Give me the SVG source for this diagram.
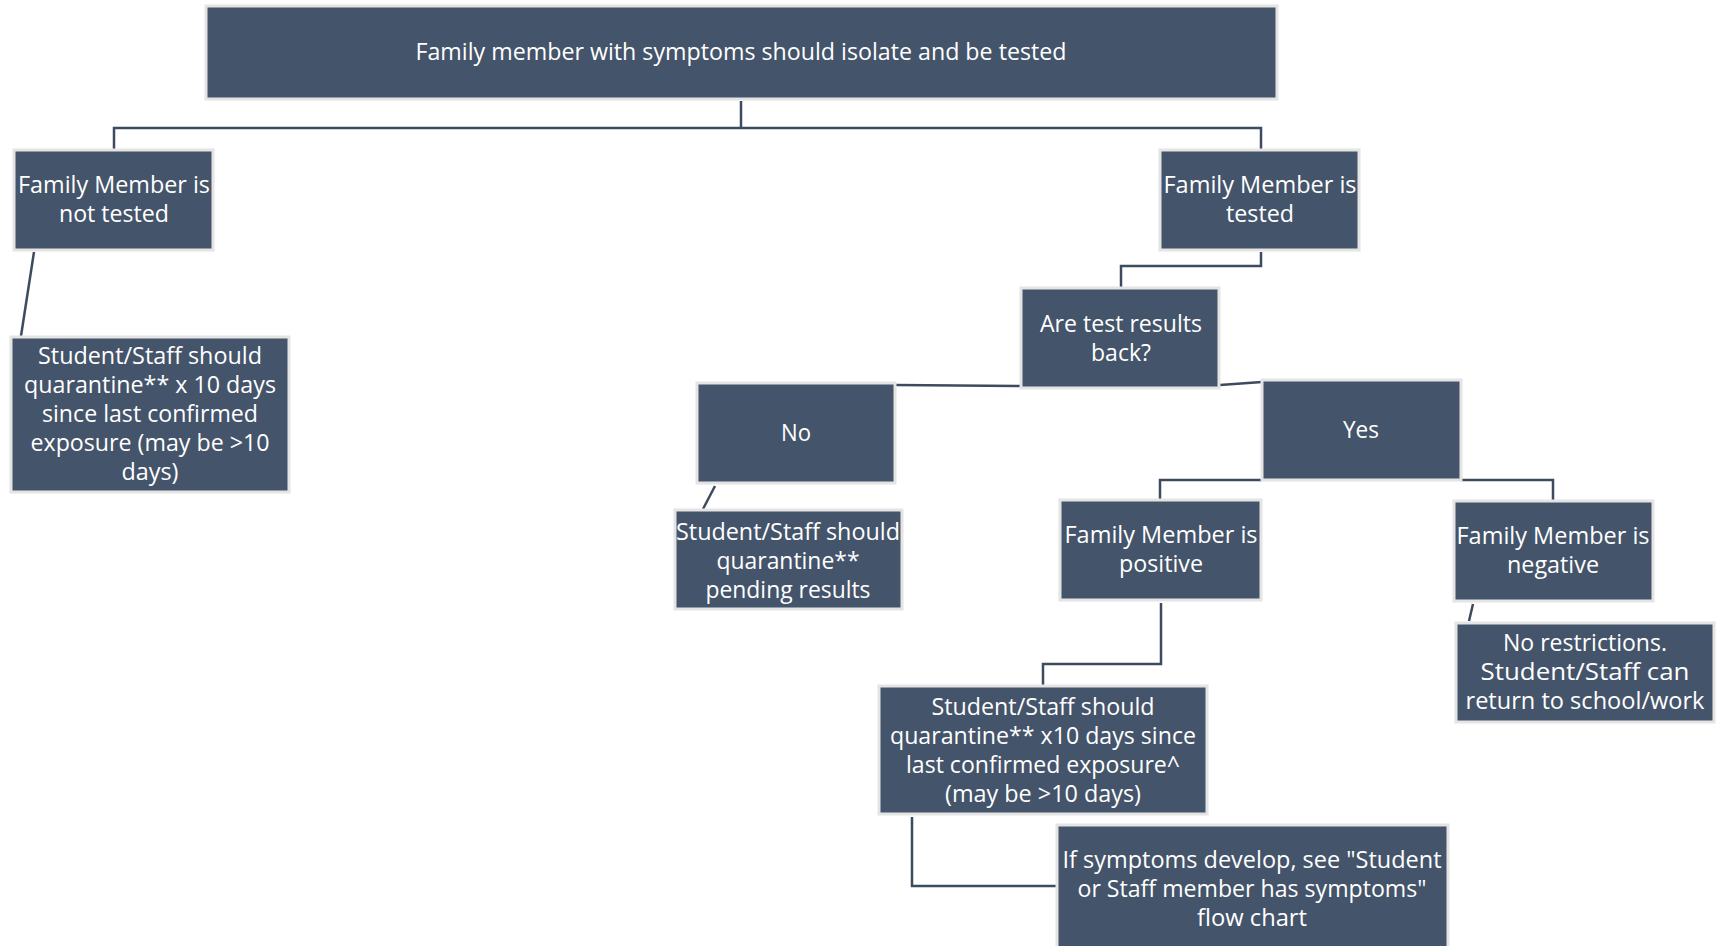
<svg xmlns="http://www.w3.org/2000/svg" width="1716" height="946" viewBox="0 0 1716 946">
<style>
.box{fill:#44546A;stroke:#E4E4E4;stroke-width:3}
.t{font-family:"Open Sans","Liberation Sans",sans-serif;font-size:23px;fill:#FFFFFF;text-anchor:middle}
.c{fill:none;stroke:#3D4B5F;stroke-width:2.5}
</style>
<rect width="1716" height="946" fill="#FFFFFF"/>
<g id="connectors">
<polyline class="c" points="741,101 741,128"/>
<polyline class="c" points="114,150 114,128 1261,128 1261,150"/>
<line class="c" x1="34" y1="252" x2="21" y2="336"/>
<polyline class="c" points="1261,252 1261,266 1121,266 1121,288"/>
<line class="c" x1="1020" y1="386" x2="896" y2="385"/>
<line class="c" x1="1220" y1="385" x2="1262" y2="382"/>
<line class="c" x1="715" y1="486" x2="703" y2="509"/>
<polyline class="c" points="1160,500 1160,480 1262,480"/>
<polyline class="c" points="1461,480 1553,480 1553,501"/>
<line class="c" x1="1473" y1="604" x2="1469" y2="621"/>
<polyline class="c" points="1161,603 1161,664 1043,664 1043,686"/>
<polyline class="c" points="912,817 912,886 1057,886"/>
</g>
<g id="n-top">
<rect class="box" x="206" y="6" width="1071" height="93"/>
<text class="t" x="741" y="60" textLength="651" lengthAdjust="spacingAndGlyphs">Family member with symptoms should isolate and be tested</text>
</g>
<g id="n-nottested">
<rect class="box" x="14" y="150" width="199" height="100"/>
<text class="t" x="114" y="193" textLength="192" lengthAdjust="spacingAndGlyphs">Family Member is</text>
<text class="t" x="114" y="222" textLength="110" lengthAdjust="spacingAndGlyphs">not tested</text>
</g>
<g id="n-q10">
<rect class="box" x="11" y="337" width="278" height="155"/>
<text class="t" x="150" y="364" textLength="224" lengthAdjust="spacingAndGlyphs">Student/Staff should</text>
<text class="t" x="150" y="393" textLength="252" lengthAdjust="spacingAndGlyphs">quarantine** x 10 days</text>
<text class="t" x="150" y="422" textLength="216" lengthAdjust="spacingAndGlyphs">since last confirmed</text>
<text class="t" x="150" y="451" textLength="239" lengthAdjust="spacingAndGlyphs">exposure (may be &gt;10</text>
<text class="t" x="150" y="480" textLength="57" lengthAdjust="spacingAndGlyphs">days)</text>
</g>
<g id="n-tested">
<rect class="box" x="1160" y="150" width="199" height="100"/>
<text class="t" x="1260" y="193" textLength="193" lengthAdjust="spacingAndGlyphs">Family Member is</text>
<text class="t" x="1260" y="222" textLength="68" lengthAdjust="spacingAndGlyphs">tested</text>
</g>
<g id="n-back">
<rect class="box" x="1021" y="288" width="198" height="100"/>
<text class="t" x="1121" y="332" textLength="162" lengthAdjust="spacingAndGlyphs">Are test results</text>
<text class="t" x="1121" y="361" textLength="60" lengthAdjust="spacingAndGlyphs">back?</text>
</g>
<g id="n-no">
<rect class="box" x="697" y="383" width="198" height="100"/>
<text class="t" x="796" y="441" textLength="30" lengthAdjust="spacingAndGlyphs">No</text>
</g>
<g id="n-pending">
<rect class="box" x="675" y="510" width="227" height="99"/>
<text class="t" x="788" y="540" textLength="224" lengthAdjust="spacingAndGlyphs">Student/Staff should</text>
<text class="t" x="788" y="569" textLength="143" lengthAdjust="spacingAndGlyphs">quarantine**</text>
<text class="t" x="788" y="598" textLength="165" lengthAdjust="spacingAndGlyphs">pending results</text>
</g>
<g id="n-yes">
<rect class="box" x="1262" y="380" width="199" height="100"/>
<text class="t" x="1361" y="438" textLength="36" lengthAdjust="spacingAndGlyphs">Yes</text>
</g>
<g id="n-positive">
<rect class="box" x="1060" y="500" width="201" height="100"/>
<text class="t" x="1161" y="543" textLength="193" lengthAdjust="spacingAndGlyphs">Family Member is</text>
<text class="t" x="1161" y="572" textLength="84" lengthAdjust="spacingAndGlyphs">positive</text>
</g>
<g id="n-negative">
<rect class="box" x="1454" y="501" width="199" height="100"/>
<text class="t" x="1553" y="544" textLength="193" lengthAdjust="spacingAndGlyphs">Family Member is</text>
<text class="t" x="1553" y="573" textLength="92" lengthAdjust="spacingAndGlyphs">negative</text>
</g>
<g id="n-norestrict">
<rect class="box" x="1456" y="623" width="258" height="99"/>
<text class="t" x="1585" y="651" textLength="164" lengthAdjust="spacingAndGlyphs">No restrictions.</text>
<text class="t" x="1585" y="680" textLength="209" lengthAdjust="spacingAndGlyphs">Student/Staff can</text>
<text class="t" x="1585" y="709" textLength="239" lengthAdjust="spacingAndGlyphs">return to school/work</text>
</g>
<g id="n-qx10">
<rect class="box" x="879" y="686" width="328" height="128"/>
<text class="t" x="1043" y="715" textLength="223" lengthAdjust="spacingAndGlyphs">Student/Staff should</text>
<text class="t" x="1043" y="744" textLength="306" lengthAdjust="spacingAndGlyphs">quarantine** x10 days since</text>
<text class="t" x="1043" y="773" textLength="274" lengthAdjust="spacingAndGlyphs">last confirmed exposure^</text>
<text class="t" x="1043" y="802" textLength="196" lengthAdjust="spacingAndGlyphs">(may be &gt;10 days)</text>
</g>
<g id="n-symptoms">
<rect class="box" x="1057" y="825" width="391" height="130"/>
<text class="t" x="1252" y="868" textLength="379" lengthAdjust="spacingAndGlyphs">If symptoms develop, see "Student</text>
<text class="t" x="1252" y="897" textLength="349" lengthAdjust="spacingAndGlyphs">or Staff member has symptoms"</text>
<text class="t" x="1252" y="926" textLength="110" lengthAdjust="spacingAndGlyphs">flow chart</text>
</g>
</svg>
